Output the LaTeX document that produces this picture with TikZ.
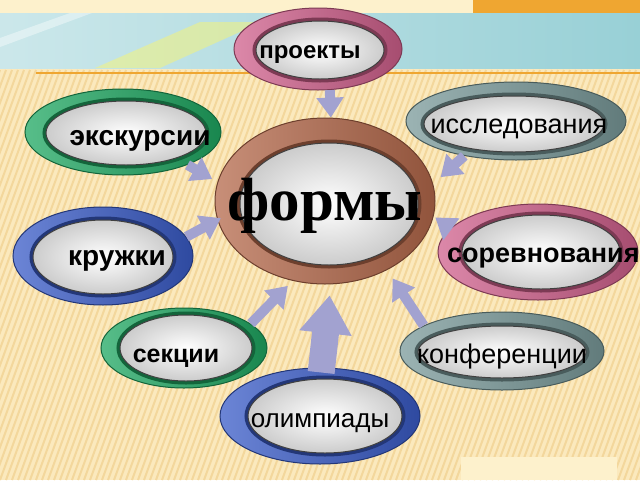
\documentclass[tikz,border=0pt]{standalone}
\usepackage{fontspec}
\setmainfont{Liberation Sans}
\newfontfamily\formsfont{Liberation Serif}
\usetikzlibrary{arrows.meta,shapes.geometric}

\definecolor{pinkR}{HTML}{D0608C}
\definecolor{tealR}{HTML}{7A9A9A}
\definecolor{greenR}{HTML}{1FA862}
\definecolor{blueR}{HTML}{3A5CC8}
\definecolor{brownR}{HTML}{B5694B}
\definecolor{arrowC}{HTML}{A2A2D0}
\definecolor{creamBg}{HTML}{FBE9BD}
\definecolor{stripeC}{HTML}{F3D79C}
\definecolor{topCream}{HTML}{FDF1CC}
\definecolor{orangeC}{HTML}{EFA631}
\definecolor{tealBand}{HTML}{98D0D6}

\begin{document}
\begin{tikzpicture}[x=1pt,y=-1pt, % pixel like units
	ring/.style={ellipse,inner sep=0pt,left color=#1!75!white,right color=#1!80!black,
		draw=#1!60!black,line width=1pt},
	core/.style={ellipse,inner sep=0pt,inner color=white,outer color=black!20,
		preaction={draw=#1!60!black,line width=7pt},draw=black!75,line width=1pt},
	txt/.style={anchor=base,inner sep=0pt,font=\fontsize{#1}{#1}\selectfont},
	btxt/.style={txt=#1,font=\fontsize{#1}{#1}\selectfont\bfseries},
	arr/.style={draw=arrowC,line width=10pt,-{Triangle[width=26pt,length=20pt]}},
	bigarr/.style={draw=arrowC,line width=27pt,-{Triangle[width=50pt,length=38pt]}}]
	\useasboundingbox (0,0) rectangle (640,480);

	% background
	\fill[creamBg] (0,0) rectangle (640,480);
	\foreach \x in {0,6,...,800}
		\draw[stripeC,line width=2pt] (\x,70) -- (\x-150,480);
	\fill[topCream] (0,0) rectangle (640,13);
	\fill[orangeC] (473,0) rectangle (640,14);
	\fill[left color=tealBand!50!white,right color=tealBand] (0,13) rectangle (640,68);
	\fill[yellow!60!white,opacity=.45] (95,68) -- (200,22) -- (262,22) -- (160,68) -- cycle;
	\fill[white,opacity=.4] (0,38) -- (70,13) -- (92,13) -- (0,47) -- cycle;
	\draw[orangeC,line width=1.5pt] (36,73) -- (640,73);
	\fill[topCream] (461,457) rectangle (617,480);

	% rings
	\node[ring=pinkR,minimum width=168,minimum height=82] (projR) at (318,49) {};
	\node[core=pinkR,minimum width=128,minimum height=58] (projC) at (320,50) {};
	\node[ring=tealR,minimum width=220,minimum height=78] (resR) at (516,121) {};
	\node[core=tealR,minimum width=180,minimum height=56] (resC) at (514,124) {};
	\node[ring=greenR,minimum width=196,minimum height=86] (excR) at (123,132) {};
	\node[core=greenR,minimum width=160,minimum height=64] (excC) at (126,133) {};
	\node[ring=brownR,minimum width=220,minimum height=166] (formsR) at (325,201) {};
	\node[core=brownR,minimum width=178,minimum height=122] (formsC) at (329,204) {};
	\node[ring=blueR,minimum width=180,minimum height=98] (circR) at (103,256) {};
	\node[core=blueR,minimum width=140,minimum height=74] (circC) at (103,257) {};
	\node[ring=pinkR,minimum width=200,minimum height=96] (compR) at (538,252) {};
	\node[core=pinkR,minimum width=158,minimum height=74] (compC) at (541,252) {};
	\node[ring=greenR,minimum width=166,minimum height=80] (secR) at (184,348) {};
	\node[core=greenR,minimum width=132,minimum height=66] (secC) at (186,348) {};
	\node[ring=tealR,minimum width=204,minimum height=78] (confR) at (502,351) {};
	\node[core=tealR,minimum width=168,minimum height=52] (confC) at (502,352) {};
	\node[ring=blueR,minimum width=200,minimum height=96] (olyR) at (320,416) {};
	\node[core=blueR,minimum width=154,minimum height=74] (olyC) at (325,416) {};

	% arrows
	\draw[arr] (projR.-74) -- (formsR.86);
	\draw[arr,shorten >=6pt] (excR.-27) -- (formsR.170.5);
	\draw[arr,shorten >=10pt] (resR.214) -- (formsR.9.7);
	\draw[arr,shorten >=-4pt] (circR.13) -- (formsR.190.5);
	\draw[arr,shorten >=2pt] (compR.165) -- (formsR.-8.3);
	\draw[arr,shorten >=7pt] (secR.20) -- (formsR.248);
	\draw[bigarr,shorten >=11pt,shorten <=-5pt] (olyR.88) -- (formsR.-86);
	\draw[arr,shorten >=10pt] (confR.162) -- (formsR.-48.6);

	% labels
	\node[btxt=24] (proj) at (310,58) {проекты};
	\node[txt=27] (res) at (519,133) {исследования};
	\node[btxt=28] (exc) at (140,145) {экскурсии};
	\node[anchor=base,inner sep=0pt,font=\formsfont\bfseries\fontsize{61}{61}\selectfont] (forms) at (325,220) {формы};
	\node[btxt=28] (circ) at (117,265) {кружки};
	\node[btxt=27,anchor=base west] (comp) at (447,262) {соревнования};
	\node[btxt=25] (sec) at (176,362) {секции};
	\node[txt=27] (conf) at (502,363) {конференции};
	\node[txt=26] (oly) at (320,427) {олимпиады};
\end{tikzpicture}
\end{document}
